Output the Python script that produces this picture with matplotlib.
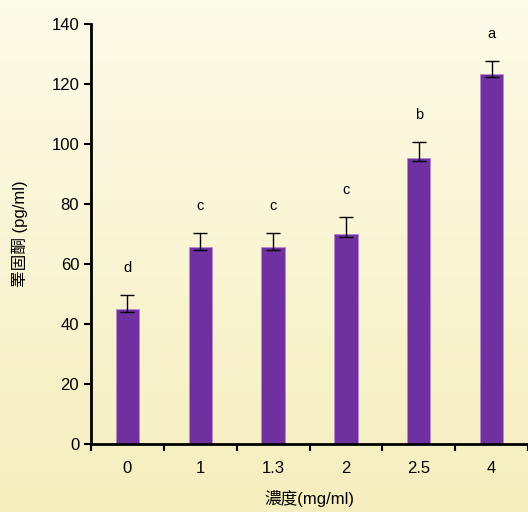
import numpy as np
import matplotlib.pyplot as plt

plt.rcParams['font.family'] = ['Liberation Sans', 'Noto Sans CJK TC', 'DejaVu Sans']

# concentration groups and hormone level (mean, error bars, significance letters)
doses = ['0', '1', '1.3', '2', '2.5', '4']
means = [45.0, 65.7, 65.7, 69.9, 95.2, 123.2]
err_up = [4.7, 4.7, 4.6, 5.9, 5.5, 4.6]
err_down = [1.0, 1.0, 1.0, 1.0, 1.0, 1.0]
letters = ['d', 'c', 'c', 'c', 'b', 'a']

fig = plt.figure(figsize=(5.28, 5.12), dpi=100)

# cream background, lighter at the top
bg = fig.add_axes([0, 0, 1, 1], zorder=-1)
top = np.array([253, 251, 233]) / 255
bot = np.array([246, 238, 190]) / 255
t = np.linspace(0, 1, 256)[:, None]
grad = top + (bot - top) * t
bg.imshow(grad[:, None, :].repeat(2, axis=1), aspect='auto', extent=[0, 1, 0, 1])
bg.axis('off')

ax = fig.add_axes([91/528, 68/512, 437/528, 420/512])
ax.set_facecolor('none')

x = np.arange(len(doses))
ax.bar(x, means, width=0.32, color='#7030a0', edgecolor='#b48ccc', linewidth=0.6, zorder=2)
ax.errorbar(x, means, yerr=[err_down, err_up], fmt='none', ecolor='black',
            elinewidth=1, capsize=5, capthick=1, zorder=3)
for xi, m, e, lab in zip(x, means, err_up, letters):
    ax.text(xi, m + e + 9, lab, ha='center', va='center', fontsize=10.5)

ax.set_xlim(-0.5, len(doses) - 0.5)
ax.set_ylim(0, 140)
ax.set_yticks(np.arange(0, 141, 20))

# ticks sit between groups, labels sit under bars
ax.set_xticks(np.arange(-0.5, len(doses), 1.0))
ax.set_xticklabels([])
ax.set_xticks(x, minor=True)
ax.set_xticklabels(doses, minor=True)
ax.tick_params(axis='x', which='major', length=5, width=1.5, direction='out')
ax.tick_params(axis='x', which='minor', length=0, pad=12, labelsize=12)
ax.tick_params(axis='y', length=5, width=1.5, direction='out', labelsize=12)

for s in ['top', 'right']:
    ax.spines[s].set_visible(False)
for s in ['left', 'bottom']:
    ax.spines[s].set_linewidth(2)

ax.set_ylabel('睪固酮 (pg/ml)', fontsize=12, labelpad=17)
ax.set_xlabel('濃度(mg/ml)', fontsize=12, labelpad=10)

fig.savefig('out.png', dpi=100)
